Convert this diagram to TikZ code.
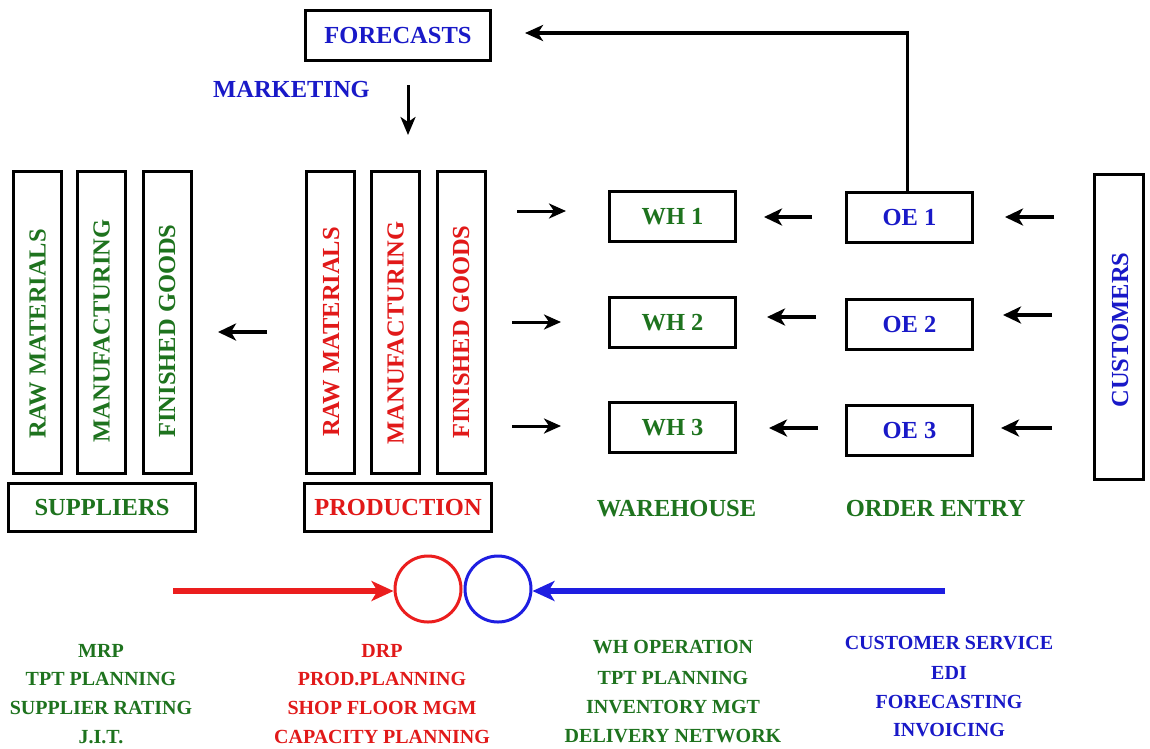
\documentclass[tikz,border=0pt]{standalone}
\usepackage{fontspec}
\setmainfont{Liberation Serif}
\usetikzlibrary{arrows.meta}
\definecolor{dgreen}{RGB}{30,115,30}
\definecolor{tred}{RGB}{225,25,25}
\definecolor{tblue}{RGB}{25,25,200}
\definecolor{ared}{RGB}{235,30,30}
\definecolor{ablue}{RGB}{30,30,225}
\begin{document}
\begin{tikzpicture}[x=1pt,y=-1pt,
  box/.style={draw=black, line width=3pt, inner sep=0pt, fill=white},
  big/.style={font=\bfseries\fontsize{24.5}{28}\selectfont, inner sep=0pt, text height=16.2pt, text depth=0pt},
  small/.style={font=\bfseries\fontsize{20}{23}\selectfont, inner sep=0pt, text height=13.2pt, text depth=0pt},
  col/.style={box, minimum width=48pt, minimum height=302pt},
  wbox/.style={box, minimum width=126pt, minimum height=50pt},
  sarrow/.style={line width=3pt, -{Stealth[length=17pt,width=15pt,inset=5pt]}},
  tarrow/.style={line width=4.2pt, -{Stealth[length=18pt,width=17pt,inset=5pt]}}
]
\useasboundingbox (0,0) rectangle (1150,748);
\fill[white] (0,0) rectangle (1150,748);

% top
\node[box, minimum width=185pt, minimum height=50pt, big, text=tblue] (fc) at (398,35.5) {FORECASTS};
\node[big, text=tblue] (mkt) at (291.5,89.5) {MARKETING};
\coordinate (mk1) at (408,85);
\coordinate (mk2) at (408,135);
\draw[line width=3pt, -{Stealth[length=18pt,width=15pt,inset=5pt]}] (mk1) -- (mk2);

% suppliers
\node[col] (s1) at (37,322.5) {};
\node[col] (s2) at (101.5,322.5) {};
\node[col] (s3) at (167,322.5) {};
\node[big, text=dgreen, rotate=90] (s1t) at (37.5,334) {RAW MATERIALS};
\node[big, text=dgreen, rotate=90] (s2t) at (101.5,331) {MANUFACTURING};
\node[big, text=dgreen, rotate=90] (s3t) at (167,331) {FINISHED GOODS};
\node[box, minimum width=187pt, minimum height=48pt, big, text=dgreen] (sup) at (102,507.5) {SUPPLIERS};

% production
\node[col] (p1) at (330.5,322.5) {};
\node[col] (p2) at (395.5,322.5) {};
\node[col] (p3) at (461,322.5) {};
\node[big, text=tred, rotate=90] (p1t) at (331,332) {RAW MATERIALS};
\node[big, text=tred, rotate=90] (p2t) at (395.5,333) {MANUFACTURING};
\node[big, text=tred, rotate=90] (p3t) at (461,332) {FINISHED GOODS};
\node[box, minimum width=187pt, minimum height=48pt, big, text=tred] (prod) at (398,507.5) {PRODUCTION};

% arrow production -> suppliers
\coordinate (ps1) at (267,332);
\coordinate (ps2) at (218,332);
\draw[tarrow] (ps1) -- (ps2);

% warehouses
\node[wbox, big, text=dgreen] (wh1) at (672.5,216.5) {WH 1};
\node[wbox, big, text=dgreen] (wh2) at (672.5,322) {WH 2};
\node[wbox, big, text=dgreen] (wh3) at (672.5,427.5) {WH 3};
\node[big, text=dgreen] (whl) at (676.5,508) {WAREHOUSE};

% order entry
\node[wbox, big, text=tblue] (oe1) at (909.5,217.5) {OE 1};
\node[wbox, big, text=tblue] (oe2) at (909.5,324) {OE 2};
\node[wbox, big, text=tblue] (oe3) at (909.5,430) {OE 3};
\node[big, text=dgreen] (oel) at (935.5,508) {ORDER ENTRY};

% customers
\node[box, minimum width=49pt, minimum height=305pt] (cus) at (1119,327) {};
\node[big, text=tblue, rotate=90] (cust) at (1120,330) {CUSTOMERS};

% arrows production -> warehouses
\coordinate (a1s) at (517,211); \coordinate (a1e) at (566,211);
\coordinate (a2s) at (512,322); \coordinate (a2e) at (561,322);
\coordinate (a3s) at (512,426); \coordinate (a3e) at (561,426);
\draw[sarrow] (a1s) -- (a1e);
\draw[sarrow] (a2s) -- (a2e);
\draw[sarrow] (a3s) -- (a3e);

% arrows OE -> WH
\coordinate (b1s) at (812,217); \coordinate (b1e) at (764,217);
\coordinate (b2s) at (816,317); \coordinate (b2e) at (767,317);
\coordinate (b3s) at (818,428); \coordinate (b3e) at (769,428);
\draw[tarrow] (b1s) -- (b1e);
\draw[tarrow] (b2s) -- (b2e);
\draw[tarrow] (b3s) -- (b3e);

% arrows customers -> OE
\coordinate (c1s) at (1054,217); \coordinate (c1e) at (1005,217);
\coordinate (c2s) at (1052,315); \coordinate (c2e) at (1003,315);
\coordinate (c3s) at (1052,428); \coordinate (c3e) at (1001,428);
\draw[tarrow] (c1s) -- (c1e);
\draw[tarrow] (c2s) -- (c2e);
\draw[tarrow] (c3s) -- (c3e);

% feedback to forecasts
\coordinate (fbend) at (907.5,33);
\coordinate (fctip) at (525,33);
\draw[line width=3.2pt, -{Stealth[length=18pt,width=16pt,inset=5pt]}] (oe1.north -| fbend) -- (fbend) -- (fctip);

% bottom circles and arrows
\node[circle, draw=ared, line width=3pt, minimum size=66pt, inner sep=0pt] (rc) at (428,589) {};
\node[circle, draw=ablue, line width=3pt, minimum size=66pt, inner sep=0pt] (bc) at (498,589) {};
\coordinate (rs) at (173,591);
\coordinate (bs) at (945,591);
\draw[ared, line width=5.5pt, -{Stealth[length=22pt,width=20pt,inset=6pt]}] (rs) -- (rs -| rc.west);
\draw[ablue, line width=5.5pt, -{Stealth[length=22pt,width=20pt,inset=6pt]}] (bs) -- (bs -| bc.east);

% bottom lists
\node[small, text=dgreen] (l11) at (101,651) {MRP};
\node[small, text=dgreen] (l12) at (101,679) {TPT PLANNING};
\node[small, text=dgreen] (l13) at (101,708) {SUPPLIER RATING};
\node[small, text=dgreen] (l14) at (101,737) {J.I.T.};

\node[small, text=tred] (l21) at (382,651) {DRP};
\node[small, text=tred] (l22) at (382,679) {PROD.PLANNING};
\node[small, text=tred] (l23) at (382,708) {SHOP FLOOR MGM};
\node[small, text=tred] (l24) at (382,737) {CAPACITY PLANNING};

\node[small, text=dgreen] (l31) at (673,647) {WH OPERATION};
\node[small, text=dgreen] (l32) at (673,678) {TPT PLANNING};
\node[small, text=dgreen] (l33) at (673,707) {INVENTORY MGT};
\node[small, text=dgreen] (l34) at (673,736) {DELIVERY NETWORK};

\node[small, text=tblue] (l41) at (949,643) {CUSTOMER SERVICE};
\node[small, text=tblue] (l42) at (949,673) {EDI};
\node[small, text=tblue] (l43) at (949,702) {FORECASTING};
\node[small, text=tblue] (l44) at (949,730) {INVOICING};
\end{tikzpicture}
\end{document}
